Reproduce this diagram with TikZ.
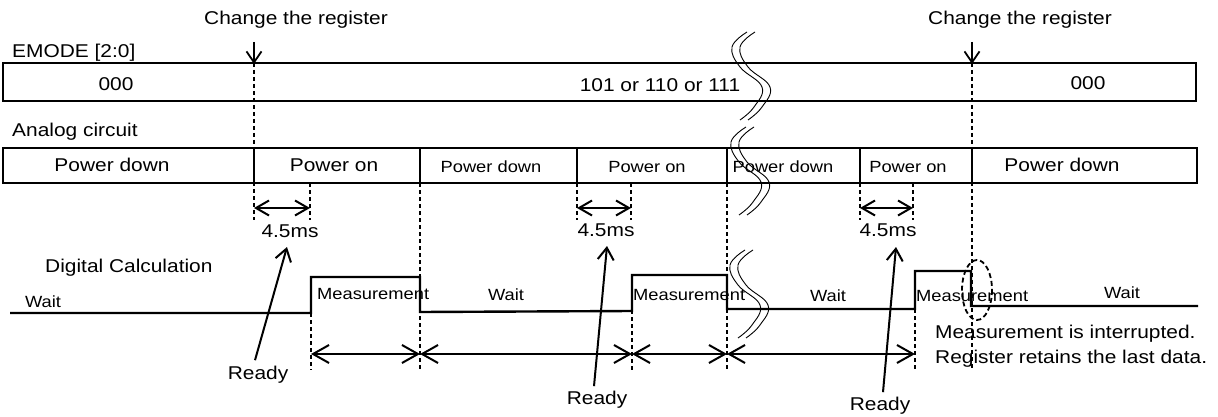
\documentclass[tikz,border=0pt]{standalone}
\usepackage{fontspec}
\setmainfont{Liberation Sans}[FakeStretch=1.13]
\usetikzlibrary{arrows.meta}
\begin{document}
\begin{tikzpicture}[x=1pt,y=-1pt,
  big/.style={font=\fontsize{18.5}{21}\selectfont, inner sep=0pt},
  small/.style={font=\fontsize{16.2}{19}\selectfont, inner sep=0pt},
  box/.style={draw, line width=1.3pt},
  sig/.style={line width=2.4pt},
  dsh/.style={line width=1.1pt, dash pattern=on 4pt off 3pt},
  smallhead/.style={line width=2pt, {Straight Barb[length=13pt,width=15pt,line width=2pt]}-{Straight Barb[length=13pt,width=15pt,line width=2pt]}},
  dimarrow/.style={line width=2pt, {Straight Barb[length=16pt,width=18pt,line width=2pt]}-{Straight Barb[length=16pt,width=18pt,line width=2pt]}},
  ptr/.style={line width=2pt, -{Straight Barb[length=12pt,width=16pt,line width=2pt]}},
  brk/.pic={
    \draw[line width=0.9pt] plot[smooth, tension=0.7] coordinates {(17,0) (2,15) (10,35) (32,55) (24,75) (10,88)};
    \draw[line width=0.9pt] plot[smooth, tension=0.7] coordinates {(25,0) (10,15) (18,35) (40,55) (32,75) (18,88)};
  }]
\useasboundingbox (0,0) rectangle (1218,417);

% ---------- EMODE row ----------
\node[big, anchor=west] (lemode) at (12,53) {EMODE [2:0]};
\draw[box] (3,63) rectangle (1196,101);
\node[big] (e1) at (116,84) {000};
\node[big] (e2) at (660,85) {101 or 110 or 111};
\node[big] (e3) at (1088,83) {000};

% ---------- Analog row ----------
\node[big, anchor=west] (lanalog) at (12,132) {Analog circuit};
\draw[box] (3,148) rectangle (1197,183);
\foreach \x in {254,420,577,727,860,972} \draw[line width=1.3pt] (\x,148) -- (\x,183);
\node[big] (a1) at (112,165) {Power down};
\node[big] (a2) at (334,165) {Power on};
\node[small] (a3) at (491,167) {Power down};
\node[small] (a4) at (647,167) {Power on};
\node[small] (a5) at (783,167) {Power down};
\node[small] (a6) at (908,167) {Power on};
\node[big] (a7) at (1062,165) {Power down};

% ---------- register change ----------
\node[big] (ch1) at (296,20) {Change the register};
\node[big] (ch2) at (1020,20) {Change the register};
\coordinate (r1t) at (254,42); \coordinate (r1b) at (254,64);
\coordinate (r2t) at (972,42); \coordinate (r2b) at (972,64);
\draw[line width=1.8pt, -{Straight Barb[length=11pt,width=15pt,line width=1.8pt]}] (r1t) -- (r1b);
\draw[line width=1.8pt, -{Straight Barb[length=11pt,width=15pt,line width=1.8pt]}] (r2t) -- (r2b);
\draw[dsh] (254,63) -- (254,220);
\draw[dsh] (972,63) -- (972,370);

% ---------- dashed guides ----------
\foreach \x in {310,577,631,860,913} \draw[dsh] (\x,183) -- (\x,220);
\draw[dsh] (420,183) -- (420,370);
\draw[dsh] (727,183) -- (727,370);
\draw[dsh] (311,313) -- (311,370);
\draw[dsh] (632,310) -- (632,370);
\draw[dsh] (915,309) -- (915,370);

% ---------- 4.5ms ----------
\coordinate (t1a) at (254,208); \coordinate (t1b) at (310,208);
\coordinate (t2a) at (577,208); \coordinate (t2b) at (631,208);
\coordinate (t3a) at (860,208); \coordinate (t3b) at (913,208);
\draw[smallhead] (t1a) -- (t1b);
\draw[smallhead] (t2a) -- (t2b);
\draw[smallhead] (t3a) -- (t3b);
\node[big] (d1) at (290,231) {4.5ms};
\node[big] (d2) at (606,230) {4.5ms};
\node[big] (d3) at (888,230) {4.5ms};

% ---------- digital ----------
\node[big, anchor=west] (ldig) at (45,268) {Digital Calculation};
\draw[sig] (10,313) -- (311,313) -- (311,277) -- (420,277) -- (420,312) -- (632,311)
  -- (632,275) -- (727,275) -- (727,309) -- (915,309) -- (915,271) -- (971,271)
  -- (971,306) -- (1198,306);
\node[small] (w1) at (43,302) {Wait};
\node[small, anchor=west] (m1) at (317,294) {Measurement};
\node[small] (w2) at (506,295) {Wait};
\node[small, anchor=west] (m2) at (633,295) {Measurement};
\node[small] (w3) at (828,296) {Wait};
\node[small, anchor=west] (m3) at (916,296) {Measurement};
\node[small] (w4) at (1122,293) {Wait};

\draw[line width=1.8pt, dash pattern=on 5pt off 3pt] (977,290) ellipse [x radius=15, y radius=30];
\node[big, anchor=west] (n1) at (935,334) {Measurement is interrupted.};
\node[big, anchor=west] (n2) at (935,359) {Register retains the last data.};

% ---------- period arrows ----------
\coordinate (p0) at (311,354); \coordinate (p1) at (420,354);
\coordinate (p2) at (632,354); \coordinate (p3) at (727,354);
\coordinate (p4) at (915,354);
\draw[dimarrow] (p0) -- (p1);
\draw[dimarrow] (p1) -- (p2);
\draw[dimarrow] (p2) -- (p3);
\draw[dimarrow] (p3) -- (p4);

% ---------- Ready ----------
\node[big] (rd1) at (258,375) {Ready};
\node[big] (rd2) at (597,400) {Ready};
\node[big] (rd3) at (880,406) {Ready};
\coordinate (rt1) at (287,247); \coordinate (rt2) at (607,246); \coordinate (rt3) at (896,247);
\draw[ptr] (rd1.north) ++(-3,-6) -- (rt1);
\draw[ptr] (rd2.north) ++(-3,-5) -- (rt2);
\draw[ptr] (rd3.north) ++(3,-5) -- (rt3);

% ---------- breaks ----------
\pic at (730,32) {brk};
\pic at (729,127) {brk};
\pic at (728,250) {brk};
\end{tikzpicture}
\end{document}
